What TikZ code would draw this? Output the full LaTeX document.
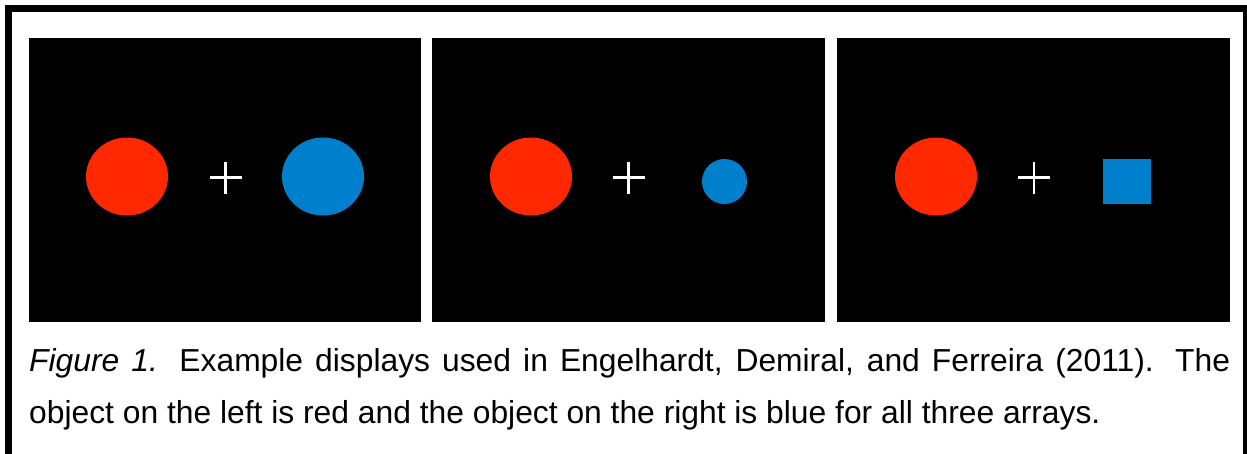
\documentclass[tikz,border=0pt]{standalone}
\usepackage{fontspec}
\setmainfont{Liberation Sans}
\usepackage{xcolor}
\usepackage{tikz}
\usetikzlibrary{shapes.geometric, positioning}
\definecolor{stimred}{RGB}{255,40,0}
\definecolor{stimblue}{RGB}{0,128,204}

\begin{document}
\begin{tikzpicture}[x=1pt, y=-1pt,
      panel/.style={rectangle, fill=black, inner sep=0pt,
                    minimum width=393pt, minimum height=284pt},
      disc/.style={ellipse, inner sep=0pt, minimum width=82pt, minimum height=78pt},
      fix/.style={white, line width=2.5pt},
      caption/.style={anchor=north west, inner sep=0pt, text width=1201pt,
                      align=justify, font=\fontsize{31.8}{52}\selectfont}
    ]
  \useasboundingbox (0,0) rectangle (1247,453);
  \begin{scope}
    \clip (0,0) rectangle (1247,453);
    \draw[line width=7pt] (8,8.5) rectangle (1246.5,460);
  \end{scope}

  % the three displays
  \node[panel, minimum width=392pt] (p1) at (225,180) {};
  \node[panel] (p2) at (628.5,180) {};
  \node[panel] (p3) at (1033.5,180) {};

  \node[disc, fill=stimred] (r1) at (127,176.5) {};
  \node[disc, fill=stimblue] (b1) at (323,176.5) {};
  \node[disc, fill=stimred] (r2) at (531,176.5) {};
  \node[disc, fill=stimblue, minimum width=45pt, minimum height=45pt] (b2) at (724.5,181.5) {};
  \node[disc, fill=stimred] (r3) at (936,176.5) {};
  \node[rectangle, fill=stimblue, inner sep=0pt, minimum width=48pt, minimum height=45pt]
    (b3) at (1127,181.5) {};

  \coordinate (c1) at (225.5,177.5);
  \coordinate (c2) at (628.5,177.5);
  \coordinate (c3) at (1034,177.5);
  \foreach \c in {c1,c2,c3}
    \draw[fix] (\c) +(-16,0) -- +(16,0) (\c) +(0,-16) -- +(0,16);

  \node[caption] (cap) at (29,348)
    {\noindent\textit{Figure 1.} Example displays used in Engelhardt, Demiral, and Ferreira (2011). The\linebreak
     object on the left is red and the object on the right is blue for all three arrays.};
\end{tikzpicture}
\end{document}
